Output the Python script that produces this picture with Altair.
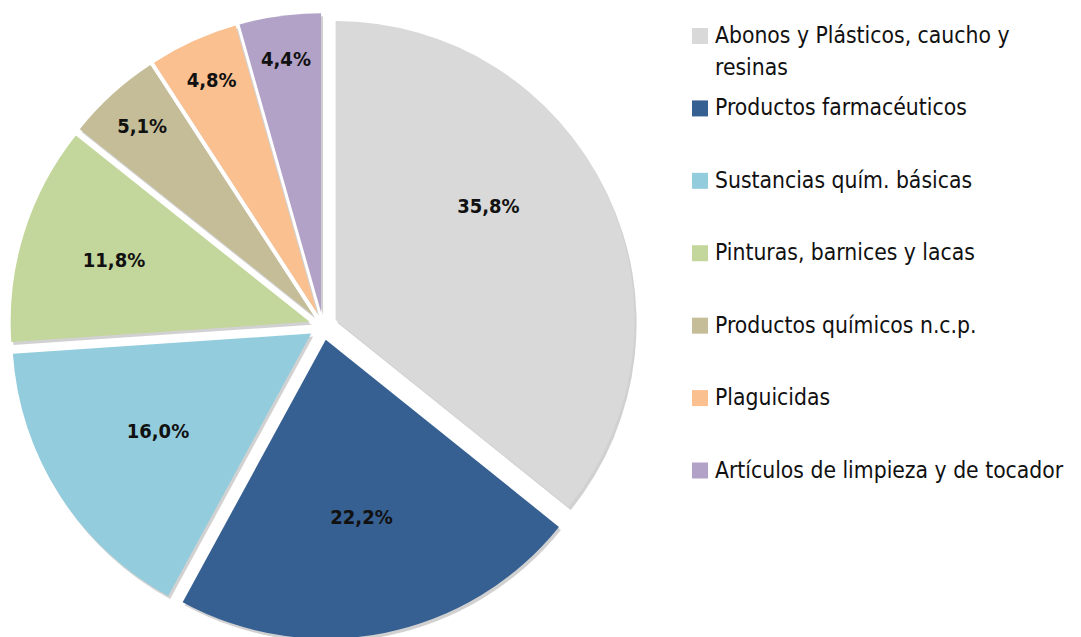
import altair as alt
import pandas as pd

# ---- data ----
categories = [
    "Abonos y Plásticos, caucho y resinas",
    "Productos farmacéuticos",
    "Sustancias quím. básicas",
    "Pinturas, barnices y lacas",
    "Productos químicos n.c.p.",
    "Plaguicidas",
    "Artículos de  limpieza y de tocador",
]
legend_labels = [
    "Abonos y Plásticos, caucho y\nresinas",
    "Productos farmacéuticos",
    "Sustancias quím. básicas",
    "Pinturas, barnices y lacas",
    "Productos químicos n.c.p.",
    "Plaguicidas",
    "Artículos de  limpieza y de tocador",
]
shares = [35.8, 22.2, 16.0, 11.8, 5.1, 4.8, 4.4]
colors = ["#D9D9D9", "#376092", "#93CDDD", "#C3D69B", "#C4BD97", "#FAC090", "#B3A2C7"]

df = pd.DataFrame({
    "cat": categories,
    "legend": legend_labels,
    "val": shares,
    "idx": list(range(len(categories))),
})

# ---- layout constants ----
W, H = 1065, 629
CX, CY = 315, 318      # pie centre (view coords)
R = 299                # pie radius
EXPLODE = 14           # radial offset of each slice
FONT = "DejaVu Sans Condensed"

xs = alt.Scale(domain=[0, W], range=[0, W])
ys = alt.Scale(domain=[0, H], range=[0, H])
color = alt.Color("cat:N", scale=alt.Scale(domain=categories, range=colors), legend=None)

pie = (
    alt.Chart(df)
    .transform_joinaggregate(total="sum(val)")
    .transform_window(cum="sum(val)", sort=[alt.SortField("idx")], frame=[None, 0])
    .transform_calculate(
        f1="datum.cum / datum.total",
        f0="(datum.cum - datum.val) / datum.total",
    )
    .transform_calculate(mid="PI * (datum.f0 + datum.f1)")
    .transform_calculate(
        cx=f"{CX} + {EXPLODE} * sin(datum.mid)",
        cy=f"{CY} - {EXPLODE} * cos(datum.mid)",
        rl="datum.val < 6 ? 255 : (datum.val < 13 ? 205 : (datum.val < 30 ? 182 : 190))",
        la="datum.val < 30 ? datum.mid : datum.mid - 0.19",
        lbl="replace(format(datum.val, '.1f'), '.', ',') + '%'",
    )
    .transform_calculate(
        lx="datum.cx + datum.rl * sin(datum.la)",
        ly="datum.cy - datum.rl * cos(datum.la)",
    )
)

arc_enc = dict(
    x=alt.X("cx:Q", scale=xs, axis=None),
    y=alt.Y("cy:Q", scale=ys, axis=None),
    theta=alt.Theta("f0:Q", scale=alt.Scale(domain=[0, 1], range=[0, 6.283185307179586]), stack=None),
    theta2="f1:Q",
)

shadow = pie.mark_arc(radius=R, color="#000000", opacity=0.18, xOffset=2, yOffset=3).encode(**arc_enc)
slices = pie.mark_arc(radius=R).encode(color=color, **arc_enc)
labels = pie.mark_text(
    font=FONT, fontSize=20, fontWeight="bold", color="#111111", align="center", baseline="middle"
).encode(
    x=alt.X("lx:Q", scale=xs, axis=None),
    y=alt.Y("ly:Q", scale=ys, axis=None),
    text="lbl:N",
)

leg_y = alt.Y("cat:N", sort=categories, scale=alt.Scale(type="point", range=[28, 462.5], padding=0), axis=None)
leg_sq = alt.Chart(df).mark_square(size=256, opacity=1, filled=True).encode(
    x=alt.value(692), y=leg_y, color=color
)
leg_txt = alt.Chart(df).mark_text(
    font=FONT, fontSize=22.7, color="#111111", align="left", baseline="alphabetic",
    dy=7, lineBreak="\n", lineHeight=32,
).encode(x=alt.value(707), y=leg_y, text="legend:N")

chart = (
    alt.layer(shadow, slices, labels, leg_sq, leg_txt)
    .resolve_scale(y="independent", x="independent")
    .properties(width=W, height=H, padding=0, autosize=alt.AutoSizeParams(type="none"))
    .configure_view(stroke=None)
)

chart.save("out.html", embed_options={"renderer": "svg", "actions": False})
